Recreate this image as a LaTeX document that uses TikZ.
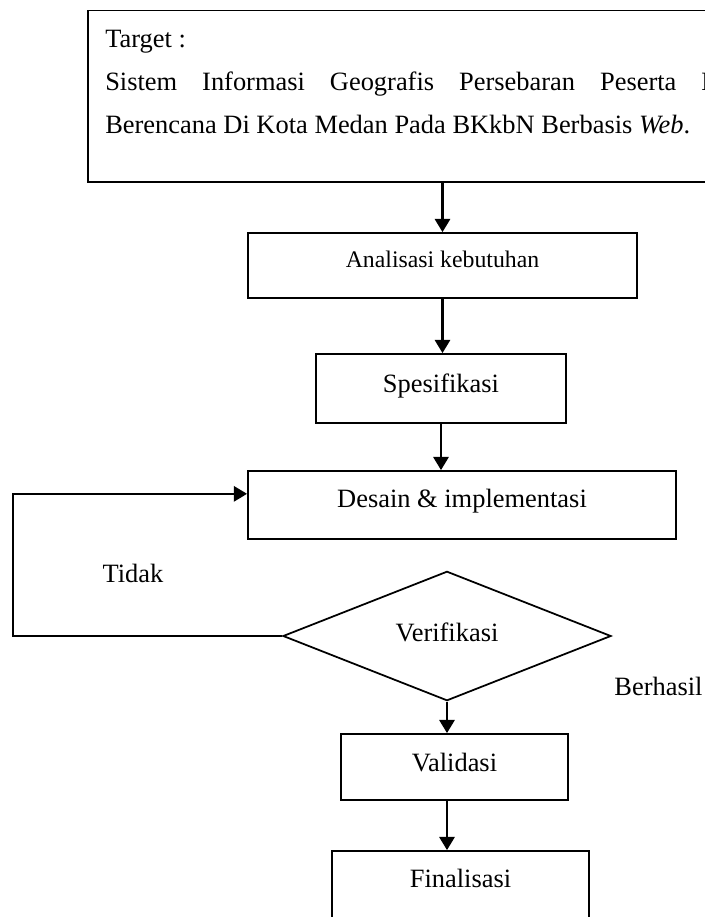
\documentclass[tikz,border=0pt]{standalone}
\usepackage{fontspec}
\setmainfont{Liberation Serif}
\usetikzlibrary{shapes.geometric,arrows.meta,calc}

\begin{document}
\begin{tikzpicture}[x=0.025cm,y=-0.025cm]
			\tikzstyle{Box}		= [rectangle, draw, line width=1.25pt, inner sep=0pt, font=\fontsize{18.8}{22}\selectfont]
			\tikzstyle{SmallBox}	= [Box, font=\fontsize{16.9}{20}\selectfont]
			\tikzstyle{Decision}	= [diamond, draw, line width=1.25pt, inner sep=0pt, minimum width=8.2cm, minimum height=2.525cm, text depth=0.2cm, font=\fontsize{18.8}{22}\selectfont]
			\tikzstyle{Label}	= [inner sep=0pt, anchor=base, font=\fontsize{18.8}{22}\selectfont]
			\tikzstyle{Line}	= [inner sep=0pt, anchor=base west, font=\fontsize{18.8}{22}\selectfont]
			\tikzstyle{Arrow}	= [line width=1.7pt, -{Triangle[length=0.33cm, width=0.38cm]}]

			\useasboundingbox (0,0) rectangle (705,917);
			\fill[white] (0,0) rectangle (705,917);
			\clip (0,0) rectangle (705,917);

			% target box, its right side runs off the page
			\node (target) at (424,96.25) [Box, minimum width=16.8cm, minimum height=4.2875cm] {};
			\node (t1) at (105,47) [Line] {Target :};
			\node (t2) at (105,90) [Line] {\makebox[15.375cm][s]{Sistem Informasi Geografis Persebaran Peserta K}};
			\node (t3) at (105,133) [Line] {Berencana Di Kota Medan Pada BKkbN Berbasis \textit{Web}.};

			\node (ana) at (442.5,265.5) [SmallBox, minimum width=9.725cm, text height=0.85cm, text depth=0.775cm] {Analisasi kebutuhan};
			\node (spec) at (441,388.5) [Box, minimum width=6.25cm, text height=0.95cm, text depth=0.775cm] {Spesifikasi};
			\node (desain) at (462,505) [Box, minimum width=10.7cm, text height=0.9cm, text depth=0.8cm] {Desain \& implementasi};
			\node (verif) at (447,636) [Decision] {Verifikasi};
			\node (valid) at (454.5,767) [Box, minimum width=5.675cm, text height=0.925cm, text depth=0.725cm] {Validasi};
			\node (final) at (460.5,893) [Box, minimum width=6.425cm, text height=0.9cm, text depth=1.2cm] {Finalisasi};

			\node (tidak) at (133,582) [Label] {Tidak};
			\node (berhasil) at (658.5,695) [Label] {Berhasil};

			\draw [Arrow] (target.south -| ana.north) -- (ana.north);
			\draw [Arrow] (ana.south) -- (ana.south |- spec.north);
			\draw [Arrow] (spec.south) -- (spec.south |- desain.north);
			\draw [Arrow] (verif.south) -- (verif.south |- valid.north);
			\draw [Arrow] (valid.south -| verif.south) -- (verif.south |- final.north);

			% back to design when verification fails
			\coordinate (back) at ($(desain.north west)!0.34!(desain.south west)$);
			\draw [Arrow] (verif.west) -- ++(-269,0) |- (back);
\end{tikzpicture}
\end{document}
